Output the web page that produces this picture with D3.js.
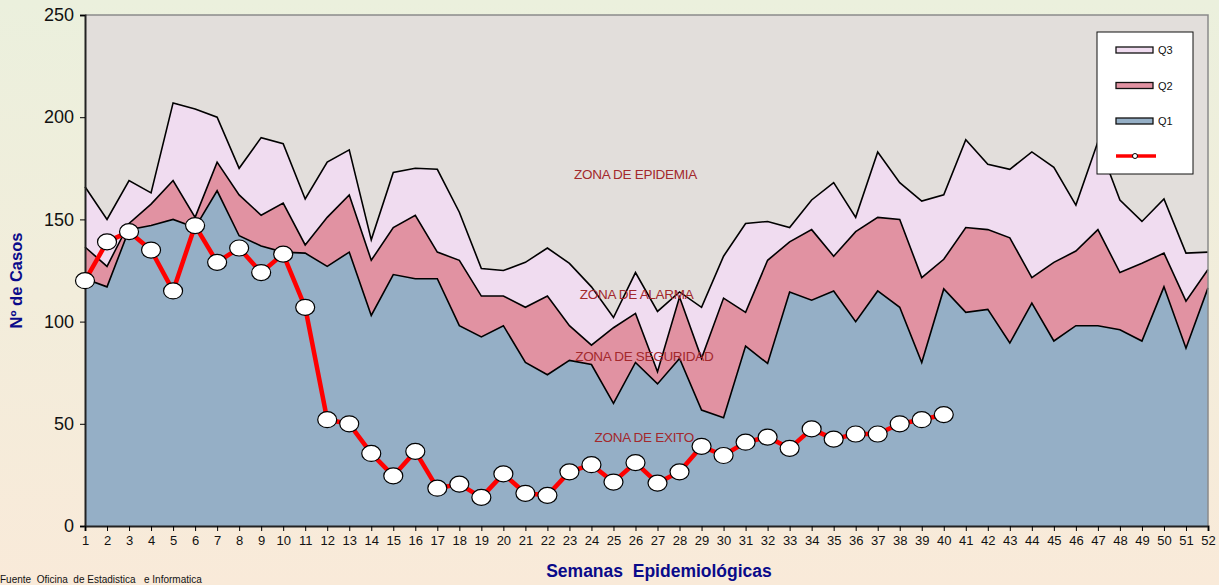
<!DOCTYPE html>
<html>
<head>
<meta charset="utf-8">
<script src="https://cdn.jsdelivr.net/npm/d3@7"></script>
<style>
  body {margin:0; overflow:hidden;}
  svg {display:block; font-family:"Liberation Sans", Arial, sans-serif;}
</style>
</head>
<body>
<svg width="1219" height="585"></svg>
<script>
"use strict";

//data
var weeks = d3.range(1, 53);
var q3 = [166,150,169,163,207,204,200,175,190,187,160,178,184,140,173,175,174.5,153.5,126,125,129,136,128.5,117,102,124,105,114.5,107,132,148,149,146,159.5,168,151,183,168,159,162,189,177,174.5,183,175.5,157,188,159.5,149,160,133.5,134];
var q2 = [136.5,127,148,157.5,169,151,178,162,152,158,137.5,151,162,130,146,152,134,130,112.5,112.5,107,112.5,98,88.5,97,104,75.5,112,82,111.5,104.5,130,139,145,132,144,151,150,121.5,130.5,146,145,141,121.5,129,134.5,145,124,128.5,133.5,110,125.5];
var q1 = [121,117,145,147,150,146,164,142,137,134,133.5,127,134,103,123,121,121,98,92.5,98,80,74,81,79,60,80,69.5,82,56.7,53,88,79.5,114.5,110.5,115,100,115,107,80,116,104.5,106,89.5,109,90.5,98,98,96,90.5,117,87,116.5];
var observed = [120,139,144,135,115,147,129,136,124,133,107,52,50,35.5,24.5,36.5,18.5,20.5,14,25.5,16,15,26.5,30,21.5,31,21,26.5,39,34.5,41,43.5,38,47.5,42.5,45,45,50,52,54.5];
var yTicks = [0,50,100,150,200,250];
var zoneLabels = [
  {text:"ZONA DE EPIDEMIA", week:26, value:170},
  {text:"ZONA DE ALARMA", week:26.05, value:111},
  {text:"ZONA DE SEGURIDAD", week:26.4, value:80.5},
  {text:"ZONA DE EXITO", week:26.4, value:41}
];

//constant params
const margin = {left:85, right:11, top:15, bottom:59};
const W = 1219, H = 585;
const colors = {bg:"#e2dedb", q3:"#f0dcf0", q2:"#e192a2", q1:"#95afc6", line:"#ff0000"};

var svg = d3.select("svg");

//page background gradient
var defs = svg.append("defs");
var grad = defs.append("linearGradient").attr("id","pagebg").attr("x1",0).attr("y1",0).attr("x2",0).attr("y2",1);
grad.append("stop").attr("offset","0%").attr("stop-color","#ebf0dd");
grad.append("stop").attr("offset","100%").attr("stop-color","#f9ead9");
svg.append("rect").attr("width",W).attr("height",H).attr("fill","url(#pagebg)");

var x = d3.scaleLinear().domain([1,52]).range([margin.left, W - margin.right]);
var y = d3.scaleLinear().domain([0,250]).range([H - margin.bottom, margin.top]);

//plot background
svg.append("rect")
  .attr("x", x(1)).attr("y", y(250))
  .attr("width", x(52) - x(1)).attr("height", y(0) - y(250))
  .attr("fill", colors.bg);

//overlapping areas, biggest first
function drawArea(vals, fill) {
  var area = d3.area().x(function(d,i){return x(weeks[i])}).y0(y(0)).y1(function(d){return y(d)});
  var line = d3.line().x(function(d,i){return x(weeks[i])}).y(function(d){return y(d)});
  svg.append("path").datum(vals).attr("d", area).attr("fill", fill);
  svg.append("path").datum(vals).attr("d", line).attr("fill","none").attr("stroke","#000").attr("stroke-width",1.6);
}
drawArea(q3, colors.q3);
drawArea(q2, colors.q2);
drawArea(q1, colors.q1);

//top and right frame
svg.append("path")
  .attr("d", "M" + x(1) + "," + y(250) + "H" + x(52) + "V" + y(0))
  .attr("fill","none").attr("stroke","#8a8a8a").attr("stroke-width",1.5);

//zone labels
svg.append("g").selectAll("text").data(zoneLabels).join("text")
  .attr("x", function(d){return x(d.week)})
  .attr("y", function(d){return y(d.value)})
  .attr("text-anchor","middle")
  .attr("font-size", 13.5)
  .attr("letter-spacing", -0.3)
  .attr("fill", "#a3282c")
  .text(function(d){return d.text});

//axes
var yAxis = svg.append("g").attr("transform","translate(" + x(1) + ",0)")
  .call(d3.axisLeft(y).tickValues(yTicks).tickSize(5).tickPadding(6));
yAxis.select(".domain").attr("stroke","#222").attr("stroke-width",2);
yAxis.selectAll("text").attr("font-size",18).attr("fill","#111").attr("font-family","Liberation Sans, Arial");

var xAxis = svg.append("g").attr("transform","translate(0," + y(0) + ")")
  .call(d3.axisBottom(x).tickValues(weeks).tickFormat(d3.format("d")).tickSize(5).tickPadding(5));
xAxis.select(".domain").attr("stroke","#222").attr("stroke-width",2);
xAxis.selectAll("text").attr("font-size",13).attr("fill","#111").attr("font-family","Liberation Sans, Arial");

//observed cases
svg.append("path").datum(observed)
  .attr("d", d3.line().x(function(d,i){return x(weeks[i])}).y(function(d){return y(d)}))
  .attr("fill","none").attr("stroke",colors.line).attr("stroke-width",4.5).attr("stroke-linejoin","round");
svg.append("g").selectAll("ellipse").data(observed).join("ellipse")
  .attr("cx", function(d,i){return x(weeks[i])})
  .attr("cy", function(d){return y(d)})
  .attr("rx", 9.5).attr("ry", 8)
  .attr("fill","#fff").attr("stroke","#000").attr("stroke-width",1.2);

//titles
svg.append("text")
  .attr("transform","translate(22," + (y(125) + 10) + ") rotate(-90)")
  .attr("text-anchor","middle").attr("font-size",16.5).attr("font-weight","bold").attr("fill","#0a0a8a")
  .text("Nº de Casos");
svg.append("text")
  .attr("x", 659).attr("y", 577)
  .attr("text-anchor","middle").attr("font-size",17.5).attr("font-weight","bold").attr("fill","#0a0a8a")
  .attr("xml:space","preserve")
  .text("Semanas  Epidemiológicas");
svg.append("text")
  .attr("x", 0).attr("y", 583).attr("font-size",10).attr("fill","#111")
  .attr("xml:space","preserve")
  .text("Fuente  Oficina  de Estadistica   e Informatica");

//legend
var legend = svg.append("g").attr("transform","translate(1097,32)");
legend.append("rect").attr("width",96).attr("height",142).attr("fill","#fff").attr("stroke","#111").attr("stroke-width",1);
var legendItems = [["Q3", colors.q3], ["Q2", colors.q2], ["Q1", colors.q1]];
legendItems.forEach(function(it, i){
  var ly = 18 + i*35.5;
  legend.append("rect").attr("x",19).attr("y",ly - 3).attr("width",37).attr("height",6)
    .attr("fill",it[1]).attr("stroke","#111").attr("stroke-width",1.3);
  legend.append("text").attr("x",61).attr("y",ly + 4).attr("font-size",11).attr("fill","#111").text(it[0]);
});
legend.append("line").attr("x1",19).attr("x2",59).attr("y1",124).attr("y2",124)
  .attr("stroke",colors.line).attr("stroke-width",3.5);
legend.append("circle").attr("cx",38).attr("cy",124).attr("r",2.5)
  .attr("fill","#fff").attr("stroke","#000").attr("stroke-width",1);
</script>
</body>
</html>
